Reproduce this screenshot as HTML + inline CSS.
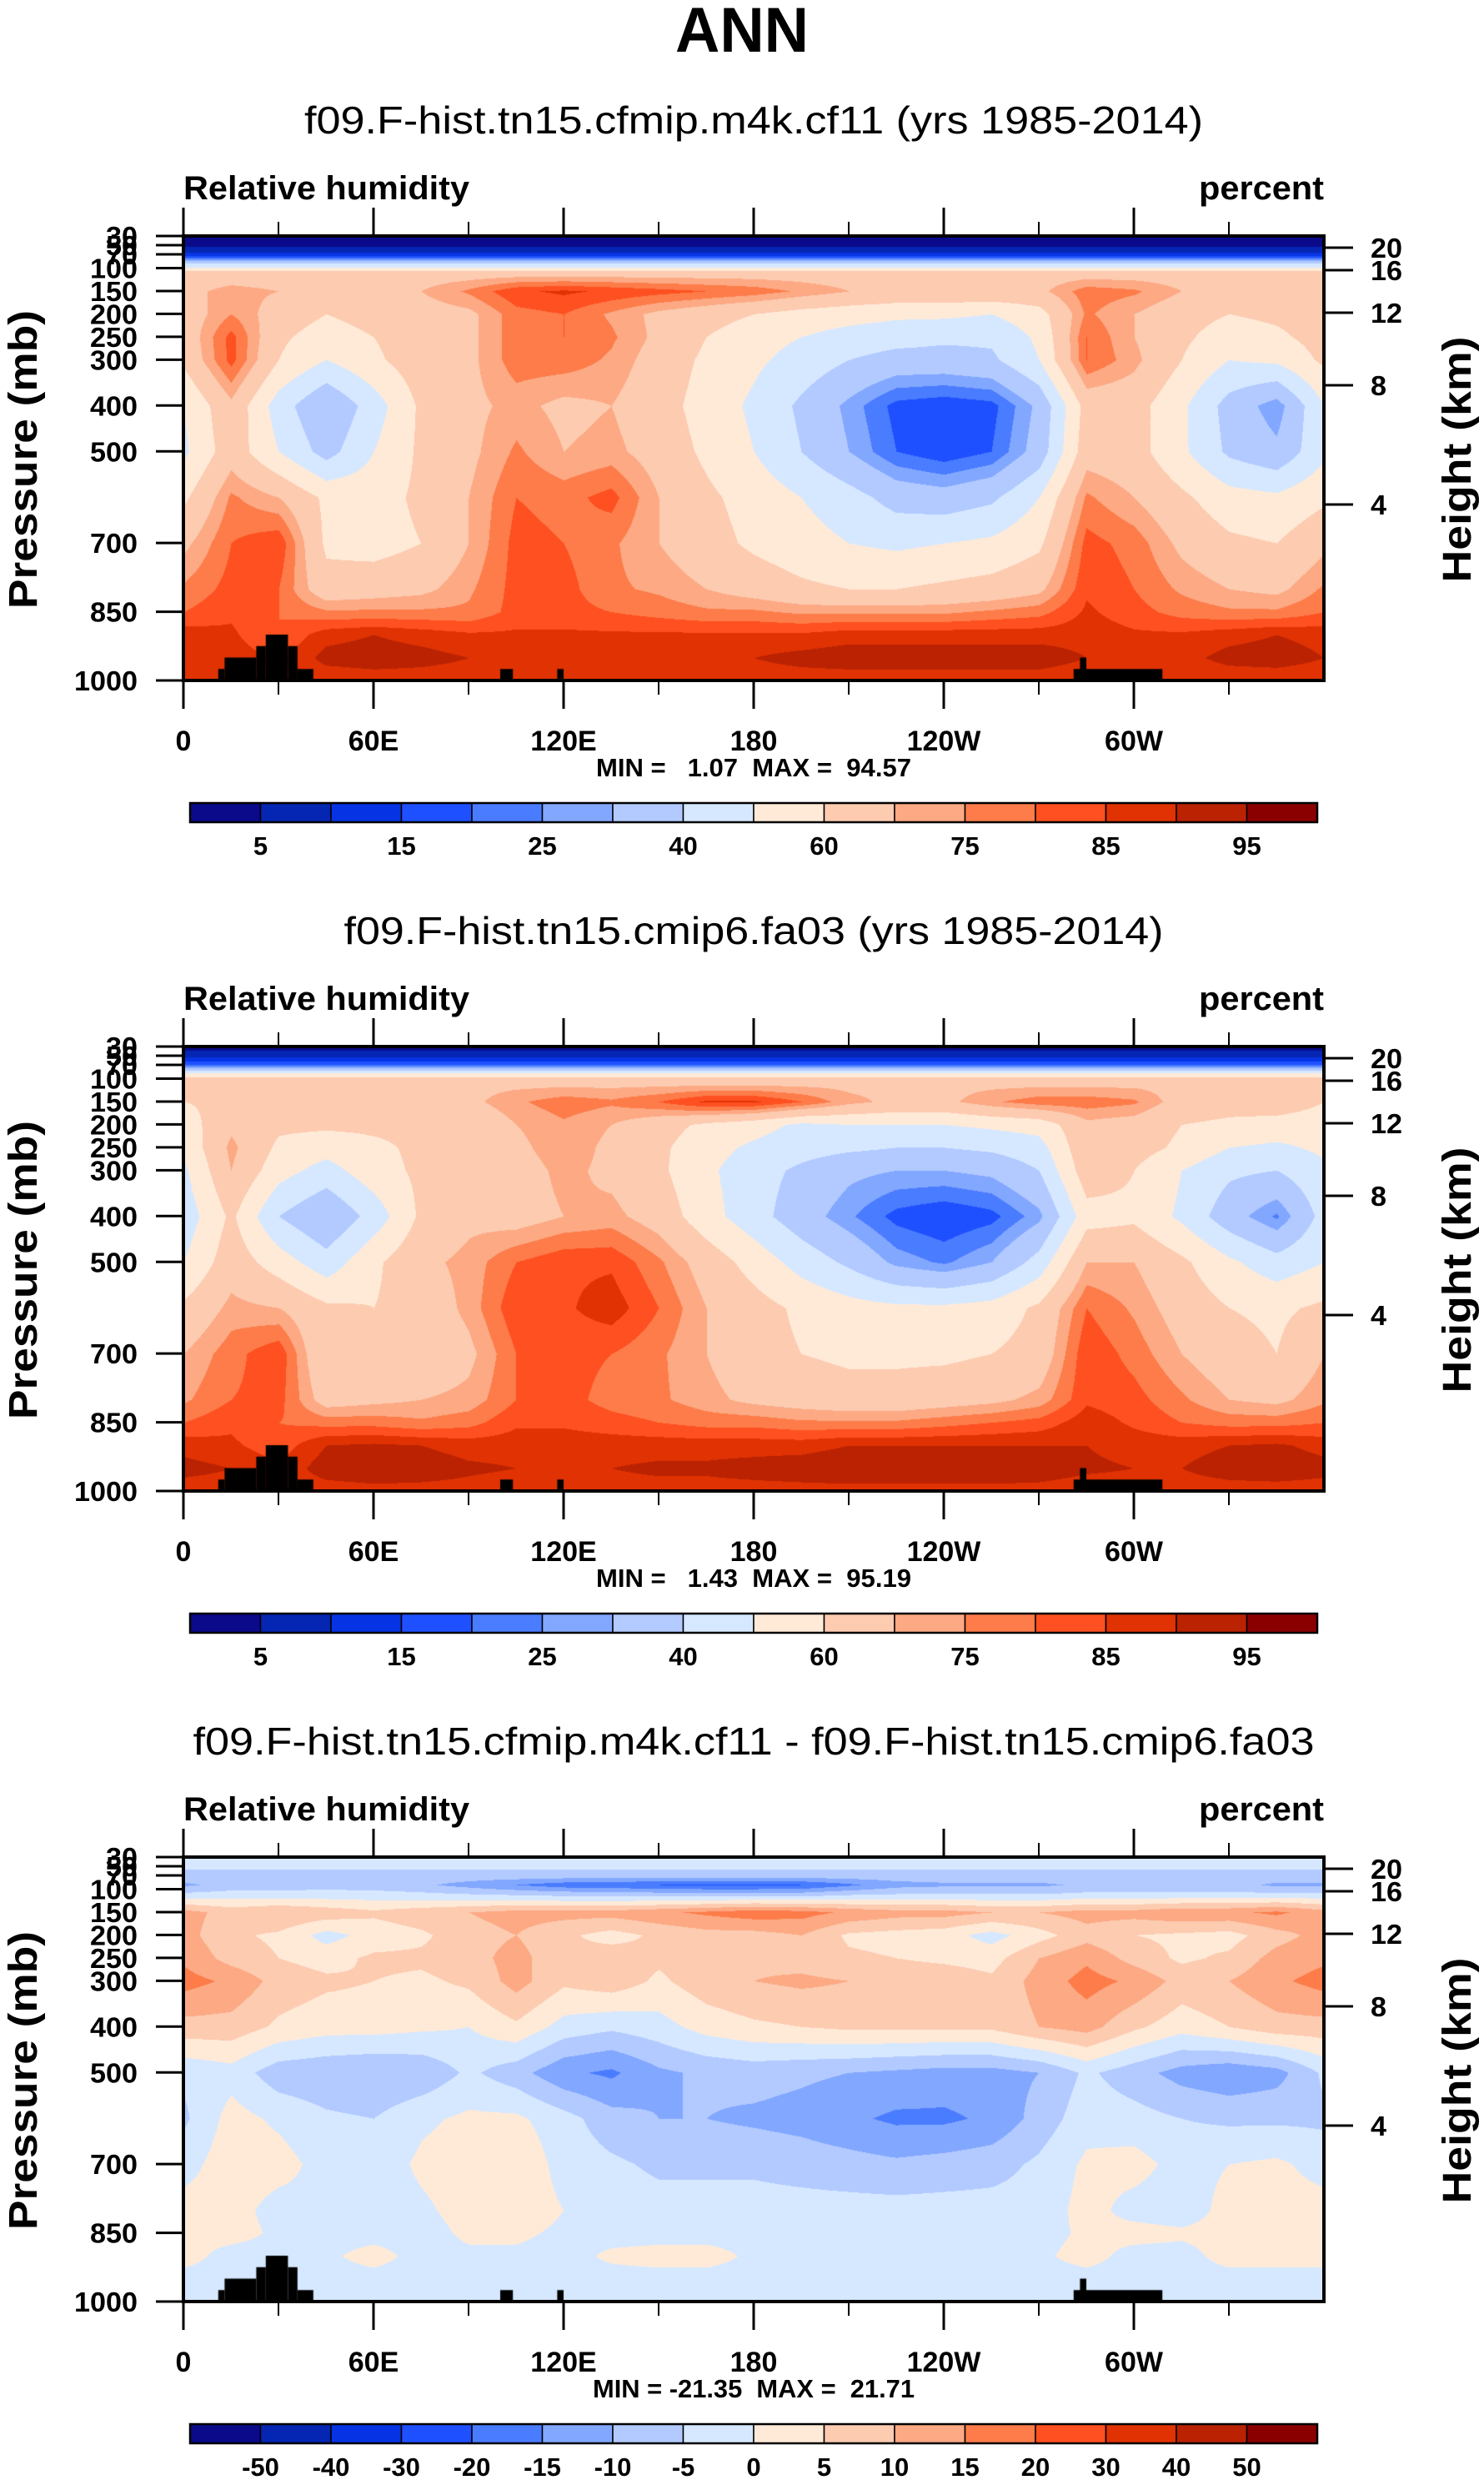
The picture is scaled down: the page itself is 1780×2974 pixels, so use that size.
<!DOCTYPE html>
<html><head><meta charset="utf-8"><title>ANN Relative humidity</title>
<style>
html,body{margin:0;padding:0;background:#fff;}
#root{position:relative;width:1780px;height:2974px;overflow:hidden;background:#fff;}
canvas{position:absolute;left:220px;}
svg{position:absolute;left:0;top:0;}
text{font-family:"Liberation Sans",sans-serif;white-space:pre;}
</style></head>
<body>
<div id="root">
<canvas id="c0" width="1368" height="533" style="top:283px"></canvas>
<canvas id="c1" width="1368" height="533" style="top:1255px"></canvas>
<canvas id="c2" width="1368" height="533" style="top:2227px"></canvas>
<svg id="ov" width="1780" height="2974" xmlns="http://www.w3.org/2000/svg"></svg>
</div>
<script>
// ---- data ----
const pLevels = [30,50,70,90,110,150,200,250,300,400,500,600,700,800,850,900,950,1000];
const lonCols = [0,15,30,45,60,75,90,105,120,135,150,165,180,195,210,225,240,255,270,285,300,315,330,345,360];
const rhLevels = [5,10,15,20,25,30,40,50,60,70,75,80,85,90,95];
const rhLabels = ["5","15","25","40","60","75","85","95"];
const diffLevels = [-50,-40,-30,-20,-15,-10,-5,0,5,10,15,20,30,40,50];
const diffLabels = ["-50","-40","-30","-20","-15","-10","-5","0","5","10","15","20","30","40","50"];
const palette = ["#0a0a8a","#0426b2","#0634e4","#1e50ff","#4a7cff","#82a7ff","#b2caff","#d6e8ff","#ffead8","#fdcbb0","#fca984","#fd7c4a","#fe5020","#e03202","#ba2202","#8a0000"];

const rh1 = [
[1,1,1,1,1,1,1,1,1,1,1,1,1,1,1,1,1,1,1,1,1,1,1,1,1],
[4,4,4,4,4,4,4,4,4,4,4,4,4,4,4,4,4,4,4,4,4,4,4,4,4],
[12,12,12,12,12,12,12,12,12,12,12,12,12,12,12,12,12,12,12,12,12,12,12,12,12],
[40,40,40,40,40,40,40,40,40,40,40,40,40,40,40,40,40,40,40,40,40,40,40,40,40],
[66,66,66,66,66,66,66,66,66,66,66,66,66,66,66,66,66,66,66,66,66,66,66,66,66],
[68,72,70,68,68,70,76,84,86,84,82,80,78,74,70,68,68,68,68,78,76,70,68,68,68],
[65,75,66,60,64,66,68,78,80,74,68,64,60,56,54,52,52,50,56,76,70,64,60,62,65],
[64,82,62,55,60,66,68,78,80,76,68,60,54,50,46,44,42,42,52,80,70,62,55,58,64],
[62,82,60,50,58,66,68,78,78,74,66,58,52,46,40,36,36,38,50,80,72,60,50,52,62],
[50,68,45,30,45,62,68,72,68,70,64,56,48,38,28,18,16,18,32,64,64,52,36,26,50],
[48,66,50,36,50,62,68,76,70,72,66,58,50,40,30,20,16,20,34,66,64,52,38,32,48],
[58,76,70,58,56,62,70,80,78,82,70,62,56,50,44,36,34,38,50,76,70,62,54,52,58],
[68,80,84,58,56,60,70,82,80,76,70,64,58,54,50,48,50,52,58,82,78,68,62,60,68],
[76,82,80,64,66,68,74,82,82,76,74,70,66,62,60,60,62,64,68,84,80,74,70,68,76],
[80,84,80,76,76,76,76,82,82,80,78,76,76,74,74,74,74,76,78,86,82,78,76,76,80],
[88,86,80,88,90,88,86,86,86,86,86,86,86,86,88,88,88,88,88,88,86,86,88,90,88],
[90,88,84,92,93,92,90,88,88,89,90,90,90,92,93,93,93,93,93,90,88,88,92,93,90],
[86,86,84,86,87,87,87,86,86,87,87,87,87,87,87,87,87,87,87,86,86,86,86,86,86]
];
const rh2 = [
[3,3,3,3,3,3,3,3,3,3,3,3,3,3,3,3,3,3,3,3,3,3,3,3,3],
[8,8,8,8,8,8,8,8,8,8,8,8,8,8,8,8,8,8,8,8,8,8,8,8,8],
[20,20,20,20,20,20,20,20,20,20,20,20,20,20,20,20,20,20,20,20,20,20,20,20,20],
[56,56,56,56,56,56,56,56,56,56,56,56,56,56,56,56,56,56,56,56,56,56,56,56,56],
[68,68,68,68,68,68,68,68,68,68,68,68,68,68,68,68,68,68,68,68,68,68,68,68,68],
[60,62,62,62,62,64,68,74,78,76,80,86,86,80,72,68,68,74,78,78,76,66,64,66,60],
[55,68,62,62,62,62,62,70,74,70,64,58,54,48,50,50,50,52,54,68,66,60,58,56,55],
[52,72,58,54,58,62,62,68,74,68,62,54,48,44,42,40,40,42,46,68,64,58,50,48,52],
[48,70,54,46,56,62,62,66,72,68,62,52,44,38,32,30,30,32,40,66,60,50,42,40,48],
[44,62,40,30,44,62,68,66,70,72,66,54,44,34,26,18,15,18,28,56,58,48,34,24,44],
[50,66,55,44,58,68,72,80,84,84,76,66,56,46,38,28,24,30,44,70,70,62,52,44,50],
[62,72,70,62,60,64,72,84,84,88,80,70,64,58,54,52,52,54,62,80,74,66,60,58,62],
[70,78,84,60,60,62,68,80,82,80,76,70,64,60,58,58,58,60,64,84,78,70,64,60,70],
[74,80,82,66,68,70,72,80,82,78,76,72,68,66,64,64,66,68,72,84,82,76,70,68,74],
[80,84,80,78,78,76,78,84,84,82,80,78,78,76,76,76,78,80,82,88,84,80,78,78,80],
[88,86,82,90,91,90,88,88,88,88,88,88,88,88,90,90,90,90,90,90,88,88,90,91,88],
[92,90,86,93,94,93,91,90,90,90,91,91,92,93,94,94,94,94,93,91,90,90,93,94,92],
[87,87,86,87,88,88,88,87,87,88,88,88,88,88,88,88,88,88,88,87,87,87,87,87,87]
];
const diffRH = [
[-3,-3,-3,-3,-3,-3,-3,-3,-3,-3,-3,-3,-3,-3,-3,-3,-3,-3,-3,-3,-3,-3,-3,-3,-3],
[-4,-4,-4,-4,-4,-4,-4,-4,-4,-4,-4,-4,-4,-4,-4,-4,-4,-4,-4,-4,-4,-4,-4,-4,-4],
[-7,-7,-7,-7,-7,-7,-7,-7,-7,-7,-7,-7,-7,-7,-7,-7,-7,-7,-7,-7,-7,-7,-7,-7,-7],
[-11,-8,-8,-7,-8,-9,-12,-15,-18,-19,-20,-21,-21,-20,-16,-12,-11,-11,-11,-9,-9,-8,-8,-11,-11],
[-4,-3,-3,-3,-3,-4,-5,-6,-7,-7,-8,-8,-8,-8,-6,-5,-5,-5,-5,-4,-4,-4,-4,-4,-4],
[12,8,10,8,6,8,10,12,12,12,14,16,18,17,14,12,12,10,10,12,12,14,14,16,12],
[12,6,4,-2,2,4,8,10,6,3,6,8,8,10,4,3,2,-2,3,8,5,4,3,8,12],
[14,8,5,3,6,6,8,12,6,8,6,8,9,8,6,5,4,3,10,14,8,4,6,12,14],
[17,14,8,6,5,4,6,12,6,8,4,8,10,11,10,8,8,6,12,17,14,8,10,14,17],
[8,8,4,2,2,1,0,4,-2,-4,-2,2,4,5,6,6,6,6,10,12,6,2,5,8,8],
[-4,-2,-8,-9,-10,-9,-4,-8,-14,-16,-11,-9,-8,-9,-10,-11,-12,-12,-10,-4,-8,-12,-14,-12,-4],
[-6,2,-1,-4,-5,-1,1,1,-3,-8,-10,-10,-11,-12,-14,-16,-16,-14,-8,-2,-3,-5,-6,-6,-6],
[-2,3,2,-2,-3,1,3,4,-2,-4,-6,-6,-6,-7,-8,-9,-8,-7,-4,1,2,-2,0,1,-2],
[2,2,-2,-1,-3,-1,2,3,0,-2,-3,-3,-3,-3,-3,-3,-3,-3,-3,2,-2,-3,2,2,2],
[1,2,-1,-2,-2,-2,1,1,-1,-2,-2,-2,-2,-2,-2,-2,-2,-2,-2,1,2,1,2,2,1],
[2,-2,-2,-1,2,-2,-1,-1,-2,1,2,2,-1,-2,-2,-2,-2,-2,-1,2,-2,-2,2,2,2],
[-2,-2,-2,-2,-2,-2,-2,-2,-2,-2,-2,-2,-2,-2,-2,-2,-2,-2,-2,-2,-2,-2,-2,-2,-2],
[-2,-2,-2,-2,-2,-2,-2,-2,-2,-2,-2,-2,-2,-2,-2,-2,-2,-2,-2,-2,-2,-2,-2,-2,-2]
];
// topography blocks: lon start, lon end, top pressure (mb)
const topoLon0 = [11,13,23,26,33,36,100,118,281,283];
const topoLon1 = [13,23,26,33,36,41,104,120,309,285];
const topoPTop = [975,950,925,900,925,975,975,975,975,950];

const xTickLon = [0,60,120,180,240,300];
const xTickLabels = ["0","60E","120E","180","120W","60W"];
const xMinorLon = [30,90,150,210,270,330];
const pTickVals = [30,50,70,100,150,200,250,300,400,500,700,850,1000];
const pTickLabels = ["30","50","70","100","150","200","250","300","400","500","700","850","1000"];
const hTickPx = [14,41,92,179,322];
const hTickLabels = ["20","16","12","8","4"];

const subtitles = ["f09.F-hist.tn15.cfmip.m4k.cf11 (yrs 1985-2014)","f09.F-hist.tn15.cmip6.fa03 (yrs 1985-2014)","f09.F-hist.tn15.cfmip.m4k.cf11 - f09.F-hist.tn15.cmip6.fa03"];
const subtitleW = [1078,983,1345];
const minmax = ["MIN =   1.07  MAX =  94.57","MIN =   1.43  MAX =  95.19","MIN = -21.35  MAX =  21.71"];
const minmaxW = [378,378,386];

// ---- layout ----
const PX0 = 220, PW = 1368, PH = 533, PY0 = 283, DY = 972;
function xOfLon(l){ return PX0 + l/360*PW; }
function yOfP(p){ return (p-30)/970*PH; }

function colorIdx(v, lev){ let i=0; while(i<lev.length && v>=lev[i]) i++; return i; }
function hex(c){ return [parseInt(c.slice(1,3),16),parseInt(c.slice(3,5),16),parseInt(c.slice(5,7),16)]; }
const palRGB = palette.map(hex);

function sample(grid, lon, p){
  let j=0; while(j<lonCols.length-2 && lon>lonCols[j+1]) j++;
  let i=0; while(i<pLevels.length-2 && p>pLevels[i+1]) i++;
  const tx=(lon-lonCols[j])/(lonCols[j+1]-lonCols[j]);
  const ty=(p-pLevels[i])/(pLevels[i+1]-pLevels[i]);
  const a=grid[i][j],b=grid[i][j+1],c=grid[i+1][j],d=grid[i+1][j+1];
  return (a*(1-tx)+b*tx)*(1-ty)+(c*(1-tx)+d*tx)*ty;
}
function drawPanel(id, grid, lev){
  const cv=document.getElementById(id), ctx=cv.getContext('2d');
  const img=ctx.createImageData(PW,PH);
  for(let y=0;y<PH;y++){
    const p=30+y/PH*970;
    for(let x=0;x<PW;x++){
      const lon=x/PW*360;
      const v=sample(grid,lon,p);
      const c=palRGB[colorIdx(v,lev)];
      const k=(y*PW+x)*4;
      img.data[k]=c[0];img.data[k+1]=c[1];img.data[k+2]=c[2];img.data[k+3]=255;
    }
  }
  ctx.putImageData(img,0,0);
  ctx.fillStyle='#000';
  for(let t=0;t<topoLon0.length;t++){
    const x0=topoLon0[t]/360*PW, x1=topoLon1[t]/360*PW, y0=yOfP(topoPTop[t]);
    ctx.fillRect(x0,y0,x1-x0,PH-y0);
  }
}
drawPanel('c0',rh1,rhLevels);
drawPanel('c1',rh2,rhLevels);
drawPanel('c2',diffRH,diffLevels);

// ---- svg ----
const NS='http://www.w3.org/2000/svg';
const svg=document.getElementById('ov');
function mk(tag, attrs, parent){
  const e=document.createElementNS(NS,tag);
  for(const k in attrs) e.setAttribute(k,attrs[k]);
  (parent||svg).appendChild(e);
  return e;
}
function txt(s, attrs, parent){ const e=mk('text',attrs,parent); e.textContent=s; return e; }

let el = txt("ANN",{x:890,y:62,'font-size':76,'font-weight':'bold','text-anchor':'middle',textLength:160,lengthAdjust:'spacingAndGlyphs'});



for(let k=0;k<3;k++){
  const oy=PY0+DY*k;
  const g=mk('g',{});
  
  

  el=txt(subtitles[k],{x:904,y:oy-123,'font-size':46,'text-anchor':'middle',textLength:subtitleW[k],lengthAdjust:'spacingAndGlyphs'},g);
  
  
  el=txt("Relative humidity",{x:220,y:oy-44,'font-size':40,'font-weight':'bold',textLength:343,lengthAdjust:'spacingAndGlyphs'},g);
  
  
  el=txt("percent",{x:1588,y:oy-44,'font-size':40,'font-weight':'bold','text-anchor':'end',textLength:150,lengthAdjust:'spacingAndGlyphs'},g);
  
  

  el=mk('rect',{x:PX0,y:oy,width:PW,height:PH,fill:'none',stroke:'#000','stroke-width':4},g);
  
  

  for(let i=0;i<xTickLon.length;i++){
    const x=xOfLon(xTickLon[i]);
    el=mk('line',{x1:x,x2:x,y1:oy-34,y2:oy,stroke:'#000','stroke-width':3},g);
    
    
    el=mk('line',{x1:x,x2:x,y1:oy+PH,y2:oy+PH+34,stroke:'#000','stroke-width':3},g);
    
    
    el=txt(xTickLabels[i],{x:x,y:oy+PH+84,'font-size':34,'font-weight':'bold','text-anchor':'middle'},g);
    
    
  }
  for(let i=0;i<xMinorLon.length;i++){
    const x=xOfLon(xMinorLon[i]);
    el=mk('line',{x1:x,x2:x,y1:oy-17,y2:oy,stroke:'#000','stroke-width':2},g);
    
    
    el=mk('line',{x1:x,x2:x,y1:oy+PH,y2:oy+PH+17,stroke:'#000','stroke-width':2},g);
    
    
  }
  for(let i=0;i<pTickVals.length;i++){
    const y=oy+yOfP(pTickVals[i]);
    el=mk('line',{x1:187,x2:PX0,y1:y,y2:y,stroke:'#000','stroke-width':3},g);
    
    
    el=txt(pTickLabels[i],{x:165,y:y+12,'font-size':33,'font-weight':'bold','text-anchor':'end',textLength:pTickLabels[i].length*19,lengthAdjust:'spacingAndGlyphs'},g);
    
    
  }
  for(let i=0;i<hTickPx.length;i++){
    const y=oy+hTickPx[i];
    el=mk('line',{x1:PX0+PW,x2:1623,y1:y,y2:y,stroke:'#000','stroke-width':3},g);
    
    
    el=txt(hTickLabels[i],{x:1644,y:y+12,'font-size':33,'font-weight':'bold',textLength:hTickLabels[i].length*19,lengthAdjust:'spacingAndGlyphs'},g);
    
    
  }
  el=txt("Pressure (mb)",{x:0,y:0,'font-size':48,'font-weight':'bold','text-anchor':'middle',transform:'translate(44,'+(oy+268)+') rotate(-90)',textLength:358,lengthAdjust:'spacingAndGlyphs'},g);
  
  
  el=txt("Height (km)",{x:0,y:0,'font-size':48,'font-weight':'bold','text-anchor':'middle',transform:'translate(1764,'+(oy+268)+') rotate(-90)',textLength:295,lengthAdjust:'spacingAndGlyphs'},g);
  
  
  el=txt(minmax[k],{x:904,y:oy+PH+115,'font-size':31,'font-weight':'bold','text-anchor':'middle',textLength:minmaxW[k],lengthAdjust:'spacingAndGlyphs'},g);
  
  

  const cy=oy+680, cx0=228, bw=(1580-228)/16;
  for(let i=0;i<16;i++){
    el=mk('rect',{x:cx0+i*bw,y:cy,width:bw,height:23,fill:palette[i],stroke:'#000','stroke-width':1.5},g);
    
    
  }
  el=mk('rect',{x:cx0,y:cy,width:1580-228,height:23,fill:'none',stroke:'#000','stroke-width':2.5},g);
  
  
  const labs = k<2 ? rhLabels : diffLabels;
  for(let i=0;i<labs.length;i++){
    const bi = k<2 ? (2*i+1) : (i+1);
    el=txt(labs[i],{x:cx0+bi*bw,y:cy+62,'font-size':31,'font-weight':'bold','text-anchor':'middle'},g);
    
    
  }
}
</script>
</body></html>
